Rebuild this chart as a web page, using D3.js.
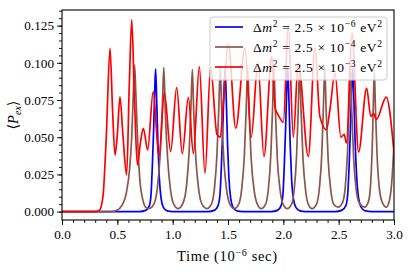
<!DOCTYPE html>
<html>
<head>
<meta charset="utf-8">
<script src="https://cdn.jsdelivr.net/npm/d3@7"></script>
<style>
  body { margin: 0; background: #fff; }
  svg { display: block; }
  text { font-family: "Liberation Serif", "DejaVu Serif", serif; fill: #000; }
</style>
</head>
<body>
<svg id="chart"></svg>
<script>
// tick values
const xTicks = [0.0, 0.5, 1.0, 1.5, 2.0, 2.5, 3.0];
const yTicks = [0.000, 0.025, 0.050, 0.075, 0.100, 0.125];

// series labels (exponent of the mass splitting)
const seriesNames = ["-6", "-4", "-3"];
const seriesColors = ["#0000ff", "#8c564b", "#ff0000"];

// [time (1e-6 s), <P_ex>]
const blue = [
  [0, 0], [0.70, 0], [0.76, 0.001], [0.79, 0.004], [0.805, 0.012], [0.816, 0.03], [0.828, 0.055],
  [0.838, 0.082], [0.846, 0.096], [0.856, 0.074], [0.867, 0.045], [0.879, 0.023], [0.895, 0.009],
  [0.915, 0.003], [0.95, 0.0005], [1.0, 0],
  [1.32, 0], [1.38, 0.001], [1.41, 0.004], [1.428, 0.012], [1.44, 0.03], [1.452, 0.055],
  [1.464, 0.082], [1.474, 0.096], [1.485, 0.074], [1.496, 0.045], [1.508, 0.023], [1.524, 0.009],
  [1.545, 0.003], [1.58, 0.0005], [1.63, 0],
  [1.89, 0], [1.95, 0.001], [1.98, 0.004], [1.997, 0.012], [2.008, 0.03], [2.02, 0.055],
  [2.031, 0.082], [2.04, 0.096], [2.051, 0.074], [2.062, 0.045], [2.074, 0.023], [2.09, 0.009],
  [2.112, 0.003], [2.15, 0.0005], [2.2, 0],
  [2.47, 0], [2.53, 0.001], [2.565, 0.004], [2.582, 0.012], [2.594, 0.03], [2.606, 0.055],
  [2.617, 0.082], [2.626, 0.096], [2.638, 0.074], [2.65, 0.045], [2.663, 0.023], [2.68, 0.009],
  [2.703, 0.003], [2.74, 0.0005], [2.8, 0], [3.0, 0]
];

const brown = [
  [0, 0], [0.45, 0], [0.50, 0.001], [0.54, 0.004], [0.58, 0.012], [0.61, 0.028], [0.63, 0.05],
  [0.645, 0.08], [0.656, 0.0985], [0.668, 0.078], [0.685, 0.045], [0.705, 0.02], [0.73, 0.008],
  [0.755, 0.003], [0.785, 0.002],
  [0.83, 0.005], [0.86, 0.015], [0.885, 0.036], [0.905, 0.066], [0.92, 0.097], [0.934, 0.066],
  [0.955, 0.035], [0.98, 0.015], [1.01, 0.005], [1.05, 0.002],
  [1.095, 0.006], [1.126, 0.018], [1.15, 0.042], [1.166, 0.072], [1.178, 0.0956], [1.19, 0.068],
  [1.21, 0.035], [1.235, 0.015], [1.265, 0.005], [1.31, 0.002],
  [1.35, 0.005], [1.378, 0.016], [1.40, 0.038], [1.417, 0.07], [1.43, 0.097], [1.443, 0.068],
  [1.462, 0.035], [1.487, 0.015], [1.517, 0.005], [1.557, 0.002],
  [1.597, 0.005], [1.625, 0.016], [1.648, 0.038], [1.665, 0.07], [1.678, 0.097], [1.691, 0.068],
  [1.71, 0.035], [1.735, 0.015], [1.765, 0.005], [1.80, 0.002],
  [1.84, 0.005], [1.866, 0.016], [1.887, 0.038], [1.903, 0.07], [1.915, 0.097], [1.928, 0.068],
  [1.946, 0.035], [1.97, 0.015], [1.998, 0.005], [2.035, 0.002],
  [2.075, 0.005], [2.1, 0.016], [2.12, 0.038], [2.135, 0.07], [2.147, 0.097], [2.16, 0.068],
  [2.178, 0.035], [2.2, 0.015], [2.225, 0.005], [2.26, 0.002],
  [2.3, 0.005], [2.326, 0.016], [2.347, 0.038], [2.362, 0.07], [2.374, 0.097], [2.387, 0.068],
  [2.405, 0.035], [2.428, 0.015], [2.455, 0.005], [2.495, 0.003],
  [2.535, 0.006], [2.56, 0.017], [2.58, 0.04], [2.594, 0.07], [2.605, 0.097], [2.618, 0.068],
  [2.636, 0.035], [2.658, 0.015], [2.685, 0.006], [2.735, 0.003],
  [2.77, 0.007], [2.79, 0.02], [2.804, 0.045], [2.814, 0.075], [2.822, 0.095], [2.832, 0.07],
  [2.847, 0.038], [2.867, 0.016], [2.895, 0.006], [2.93, 0.003],
  [2.96, 0.008], [2.98, 0.02], [3.0, 0.045]
];

const red = [
  [0, 0], [0.30, 0], [0.34, 0.001], [0.37, 0.01], [0.40, 0.05], [0.434, 0.1097], [0.457, 0.068],
  [0.479, 0.038], [0.50, 0.052], [0.524, 0.0772], [0.55, 0.052], [0.584, 0.0246], [0.608, 0.085],
  [0.63, 0.129], [0.655, 0.075], [0.681, 0.0313], [0.71, 0.047], [0.735, 0.056], [0.774, 0.0414],
  [0.824, 0.0806], [0.876, 0.0369], [0.925, 0.080], [0.982, 0.0403], [1.036, 0.0833],
  [1.087, 0.039], [1.142, 0.0768], [1.187, 0.039], [1.241, 0.0974], [1.292, 0.0257],
  [1.343, 0.097], [1.40, 0.052], [1.43, 0.050], [1.455, 0.07], [1.503, 0.113], [1.57, 0.056],
  [1.654, 0.11], [1.71, 0.05], [1.77, 0.10], [1.825, 0.037], [1.895, 0.104], [1.925, 0.070],
  [1.96, 0.064], [2.0, 0.060], [2.045, 0.125], [2.09, 0.05], [2.135, 0.10], [2.226, 0.037],
  [2.286, 0.11], [2.33, 0.064], [2.39, 0.055], [2.42, 0.068], [2.467, 0.093], [2.52, 0.050],
  [2.55, 0.052], [2.57, 0.046], [2.62, 0.12], [2.68, 0.040], [2.753, 0.083], [2.79, 0.064],
  [2.815, 0.066], [2.84, 0.062], [2.93, 0.077], [3.0, 0.04]
];

const series = [blue, brown, red];
const serif = "'Liberation Serif', 'DejaVu Serif', serif";

const width = 413, height = 275;
const margin = { top: 10, right: 19, bottom: 55, left: 62 };
const plotW = width - margin.left - margin.right;
const plotH = height - margin.top - margin.bottom;

const svg = d3.select("#chart").attr("width", width).attr("height", height);

const x = d3.scaleLinear().domain([0, 3]).range([margin.left, margin.left + plotW]);
const y = d3.scaleLinear().domain([-0.00565, 0.1355]).range([margin.top + plotH, margin.top]);

svg.append("defs").append("clipPath").attr("id", "clip")
  .append("rect")
  .attr("x", margin.left).attr("y", margin.top)
  .attr("width", plotW).attr("height", plotH);

// curves
const line = d3.line()
  .x(d => x(d[0]))
  .y(d => y(d[1]))
  .curve(d3.curveMonotoneX);

svg.append("g").attr("clip-path", "url(#clip)")
  .selectAll("path")
  .data(series)
  .join("path")
  .attr("fill", "none")
  .attr("stroke", (d, i) => seriesColors[i])
  .attr("stroke-width", 1.7)
  .attr("stroke-linejoin", "round")
  .attr("d", line);

// axes
const xMinor = d3.range(0, 3.0001, 0.1);
const yMinor = d3.range(0, 0.1351, 0.005);

const xAxis = svg.append("g").attr("transform", `translate(0,${margin.top + plotH})`);
xAxis.call(d3.axisBottom(x).tickValues(xMinor).tickSize(3).tickFormat(""));
xAxis.call(g => g.selectAll(".domain").remove());
const xMaj = svg.append("g").attr("transform", `translate(0,${margin.top + plotH})`)
  .attr("font-family", null)
  .call(d3.axisBottom(x).tickValues(xTicks).tickSize(5).tickPadding(4.5).tickFormat(d3.format(".1f")));
xMaj.select(".domain").remove();
xMaj.attr("font-family", serif);
xMaj.selectAll("text").style("font-family", serif).style("font-size", "13.2px");

const yAxis = svg.append("g").attr("transform", `translate(${margin.left},0)`);
yAxis.call(d3.axisLeft(y).tickValues(yMinor).tickSize(3).tickFormat(""));
yAxis.call(g => g.selectAll(".domain").remove());
const yMaj = svg.append("g").attr("transform", `translate(${margin.left},0)`)
  .call(d3.axisLeft(y).tickValues(yTicks).tickSize(5).tickPadding(3).tickFormat(d3.format(".3f")));
yMaj.select(".domain").remove();
yMaj.attr("font-family", serif);
yMaj.selectAll("text").style("font-family", serif).style("font-size", "13.2px");

svg.selectAll(".tick line").attr("stroke", "#000").attr("stroke-width", 0.9);

// frame
svg.append("rect")
  .attr("x", margin.left).attr("y", margin.top)
  .attr("width", plotW).attr("height", plotH)
  .attr("fill", "none").attr("stroke", "#000").attr("stroke-width", 1.1);

// axis labels
const xl = svg.append("text")
  .attr("x", 177).attr("y", 261)
  .attr("font-size", 14.5)
  .attr("textLength", 100).attr("lengthAdjust", "spacing");
xl.append("tspan").text("Time (10");
xl.append("tspan").attr("dy", -5.5).attr("font-size", 10).text("\u22126");
xl.append("tspan").attr("dy", 5.5).text(" sec)");

const yl = svg.append("text")
  .attr("transform", `translate(17.5,${margin.top + plotH / 2}) rotate(-90)`)
  .attr("text-anchor", "middle").attr("font-size", 14.5);
yl.append("tspan").text("\u27e8");
yl.append("tspan").attr("font-style", "italic").text("P");
yl.append("tspan").attr("dy", 3).attr("font-size", 10).attr("font-style", "italic").text("ex");
yl.append("tspan").attr("dy", -3).text("\u27e9");

// legend
const lg = svg.append("g");
lg.append("rect")
  .attr("x", 210).attr("y", 17).attr("width", 177).attr("height", 63)
  .attr("rx", 3)
  .attr("fill", "#fff").attr("fill-opacity", 0.8)
  .attr("stroke", "#cccccc").attr("stroke-width", 1);

seriesNames.forEach((name, i) => {
  const ly = 27 + i * 20;
  lg.append("line")
    .attr("x1", 215).attr("x2", 243).attr("y1", ly).attr("y2", ly)
    .attr("stroke", seriesColors[i]).attr("stroke-width", 1.7);
  const t = lg.append("text").attr("x", 253).attr("y", ly + 4.5).attr("font-size", 13.5)
    .attr("textLength", 129).attr("lengthAdjust", "spacing");
  t.append("tspan").text("\u0394");
  t.append("tspan").attr("font-style", "italic").text("m");
  t.append("tspan").attr("dy", -5).attr("font-size", 9.5).text("2");
  t.append("tspan").attr("dy", 5).text(" = 2.5 \u00d7 10");
  t.append("tspan").attr("dy", -5).attr("font-size", 9.5).text(name.replace("-", "\u2212"));
  t.append("tspan").attr("dy", 5).text(" eV");
  t.append("tspan").attr("dy", -5).attr("font-size", 9.5).text("2");
});
</script>
</body>
</html>
